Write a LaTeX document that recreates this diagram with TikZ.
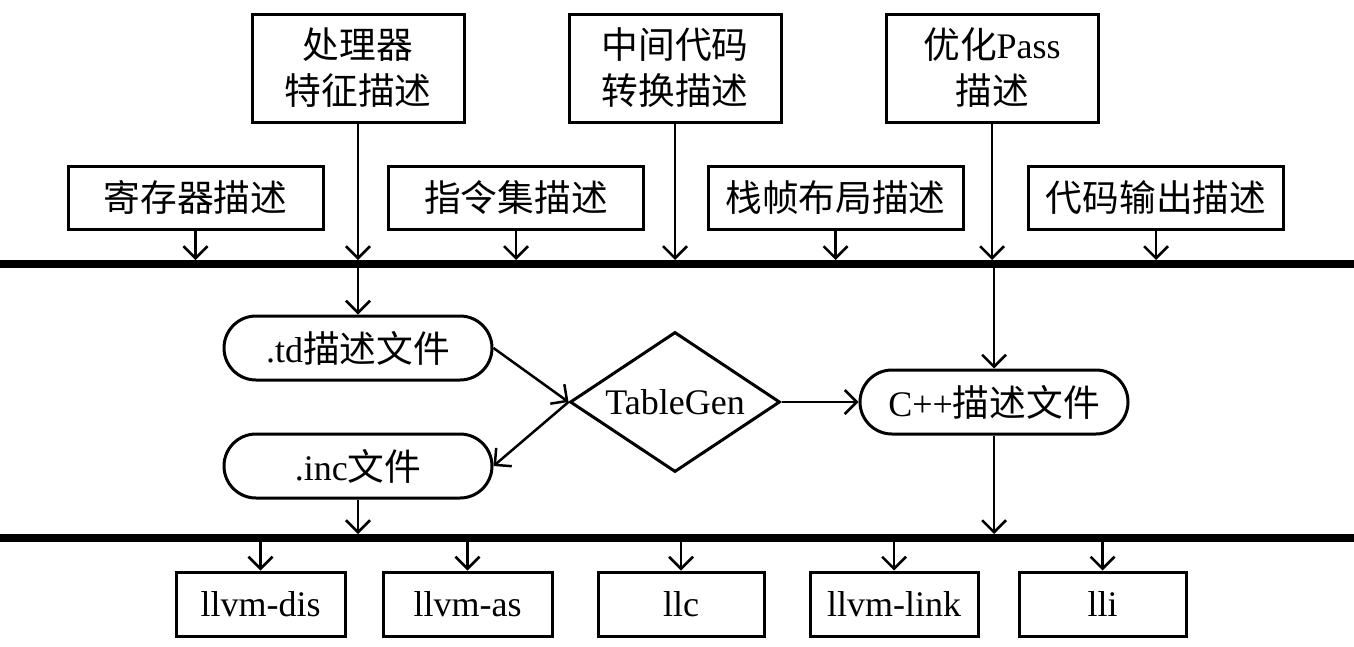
\documentclass[tikz,border=0pt]{standalone}
\usepackage{fontspec}
\setmainfont{Liberation Serif}
\newfontfamily\cjk[Scale=1.02]{Noto Sans CJK SC}
\newcommand{\zh}[1]{{\cjk #1}}
\usetikzlibrary{arrows.meta,shapes.geometric}
\begin{document}
\begin{tikzpicture}[x=1pt,y=-1pt,
  every node/.style={font=\fontsize{36}{46}\selectfont, inner sep=0pt},
  box/.style={draw, line width=3pt, align=center},
  topbox/.style={box, minimum width=212, minimum height=108},
  midbox/.style={box, minimum width=255, minimum height=63},
  botbox/.style={box, minimum width=168, minimum height=64},
  pill/.style={draw, line width=3pt, rounded corners=32pt, minimum width=268, minimum height=64},
  dia/.style={draw, line width=3pt, diamond, aspect=1.5, minimum width=210, minimum height=140},
  arr/.style={line width=2.5pt, -{Straight Barb[length=12pt,width=24pt,line width=2.5pt]}},
  bus/.style={line width=8pt}
  ]
\useasboundingbox (0,0) rectangle (1354,646);
% buses
\coordinate (b1l) at (0,264);
\coordinate (b1r) at (1354,264);
\coordinate (b1) at (0,260);
\coordinate (b1d) at (0,268);
\coordinate (b2l) at (0,538);
\coordinate (b2r) at (1354,538);
\coordinate (b2) at (0,534);
\coordinate (b2d) at (0,542);
\draw[bus] (b1l) -- (b1r);
\draw[bus] (b2l) -- (b2r);
% top boxes
\node[topbox] (proc) at (358,68) {\zh{处理器}\\\zh{特征描述}};
\node[topbox] (ir) at (675,68) {\zh{中间代码}\\\zh{转换描述}};
\node[topbox] (opt) at (992,68) {\zh{优化}Pass\\\zh{描述}};
% second row
\node[midbox] (reg) at (195.5,197.5) {\zh{寄存器描述}};
\node[midbox] (isa) at (516,197.5) {\zh{指令集描述}};
\node[midbox] (frame) at (835.5,197.5) {\zh{栈帧布局描述}};
\node[midbox] (emit) at (1156,197.5) {\zh{代码输出描述}};
% middle
\node[pill] (td) at (358,348) {.td\zh{描述文件}};
\node[pill] (inc) at (358,466) {.inc\zh{文件}};
\node[dia] (tg) at (675,402) {TableGen};
\node[pill] (cpp) at (994,402) {C++\zh{描述文件}};
% bottom
\node[botbox, minimum width=169] (dis) at (260.5,604) {llvm-dis};
\node[botbox, minimum width=169] (as) at (467.5,604) {llvm-as};
\node[botbox, minimum width=166] (llc) at (681,604) {llc};
\node[botbox] (link) at (894,604) {llvm-link};
\node[botbox, minimum width=167] (lli) at (1102.5,604) {lli};
% arrows to bus 1
\draw[arr] (proc.south) -- (proc.south |- b1);
\draw[arr] (ir.south) -- (ir.south |- b1);
\draw[arr] (opt.south) -- (opt.south |- b1);
\draw[arr] (reg.south) -- (reg.south |- b1);
\draw[arr] (isa.south) -- (isa.south |- b1);
\draw[arr] (frame.south) -- (frame.south |- b1);
\draw[arr] (emit.south) -- (emit.south |- b1);
% from bus 1
\draw[arr] (td.north |- b1d) -- (td.north);
\draw[arr] (cpp.north |- b1d) -- (cpp.north);
% middle flow
\draw[arr] (td.east) -- (tg.west);
\draw[arr] (tg.west) -- (inc.east);
\draw[arr] (tg.east) -- (cpp.west);
% to bus 2
\draw[arr] (inc.south) -- (inc.south |- b2);
\draw[arr] (cpp.south) -- (cpp.south |- b2);
% from bus 2
\draw[arr] (dis.north |- b2d) -- (dis.north);
\draw[arr] (as.north |- b2d) -- (as.north);
\draw[arr] (llc.north |- b2d) -- (llc.north);
\draw[arr] (link.north |- b2d) -- (link.north);
\draw[arr] (lli.north |- b2d) -- (lli.north);
\end{tikzpicture}
\end{document}
